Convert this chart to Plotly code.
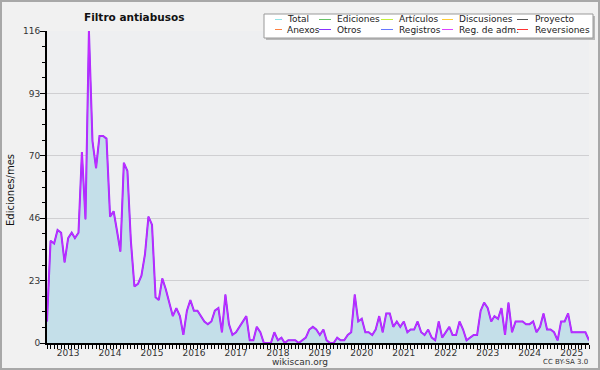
import plotly.graph_objects as go
import pandas as pd

title = "Filtro antiabusos"
start_month = "2012-07-01"
edits = [8, 38, 37, 42, 41, 30, 39, 41, 39, 41,
         71, 46, 116, 75, 65, 77, 77, 76, 47, 49,
         42, 34, 67, 64, 38, 21, 22, 25, 33, 47,
         44, 17, 16, 24, 20, 15, 10, 13, 10, 3,
         12, 16, 12, 12, 10, 8, 7, 8, 12, 13,
         4, 18, 7, 3, 4, 6, 8, 10, 1, 1,
         6, 4, 0, 0, 0, 4, 1, 2, 0, 1,
         1, 1, 0, 1, 2, 5, 6, 5, 3, 5,
         1, 0, 0, 2, 1, 1, 3, 4, 18, 8,
         9, 4, 4, 3, 5, 10, 4, 11, 11, 6,
         8, 6, 8, 4, 5, 5, 8, 4, 3, 5,
         2, 1, 8, 2, 4, 6, 3, 3, 8, 5,
         1, 2, 3, 3, 12, 15, 13, 8, 10, 9,
         13, 3, 15, 4, 8, 8, 8, 7, 7, 8,
         4, 6, 11, 5, 5, 4, 1, 8, 8, 11,
         4, 4, 4, 4, 4, 1]
years = list(range(2013, 2026))
y_tick_vals = [0, 23.2, 46.4, 69.6, 92.8, 116]
y_tick_text = ["0", "23", "46", "70", "93", "116"]
legend_names = ["Total", "Ediciones", "Artículos", "Discusiones", "Proyecto",
                "Anexos", "Otros", "Registros", "Reg. de adm.", "Reversiones"]
legend_colors = ["#8fe3e6", "#66c266", "#c4ee3a", "#ffcc33", "#555555",
                 "#ff8040", "#8833ff", "#6677ff", "#dd44ff", "#ff3333"]

months = pd.date_range(start_month, periods=len(edits), freq="MS")

W, H = 600, 370
L, R, T, B = 47, 589, 31, 343
FONT = "DejaVu Sans"

def xp(px):
    return (px - L) / (R - L)

def yp(py):
    return (B - py) / (B - T)

fig = go.Figure()
fig.add_trace(go.Scatter(x=months, y=edits, mode="lines", fill="tozeroy",
                         fillcolor="#c4dfe9", line=dict(color="#8fb8f0", width=1),
                         name="Total", showlegend=False))
fig.add_trace(go.Scatter(x=months, y=edits, mode="lines",
                         line=dict(color="#9a2cff", width=2), name="Otros", showlegend=False))
fig.add_trace(go.Scatter(x=months, y=edits, mode="lines",
                         line=dict(color="#c82cff", width=1), name="Reg. de adm.", showlegend=False))

shapes = []
annotations = []
# figure border
shapes.append(dict(type="rect", xref="paper", yref="paper",
                   x0=xp(1), x1=xp(599), y0=yp(369), y1=yp(1),
                   line=dict(color="#a8a8a8", width=2), fillcolor="rgba(0,0,0,0)", layer="below"))
# legend shadow + box
shapes.append(dict(type="rect", xref="paper", yref="paper",
                   x0=xp(266), x1=xp(595), y0=yp(40), y1=yp(16),
                   line=dict(width=0), fillcolor="#b8b8b8", layer="above"))
shapes.append(dict(type="rect", xref="paper", yref="paper",
                   x0=xp(264), x1=xp(593), y0=yp(38), y1=yp(14),
                   line=dict(color="#999999", width=1), fillcolor="#ffffff", layer="above"))
col_text_x = [285, 335, 397, 457, 533]
col_line_x = [(275, 282), (319, 331), (381, 393), (442, 453), (517, 528)]
row_y = [19.5, 29.5]
for k, (name, col) in enumerate(zip(legend_names, legend_colors)):
    r, c = divmod(k, 5)
    x0, x1 = col_line_x[c]
    shapes.append(dict(type="line", xref="paper", yref="paper",
                       x0=xp(x0), x1=xp(x1), y0=yp(row_y[r]), y1=yp(row_y[r]),
                       line=dict(color=col, width=1), layer="above"))
    annotations.append(dict(xref="paper", yref="paper", x=xp(col_text_x[c]), y=yp(row_y[r]),
                            text=name, showarrow=False, xanchor="left", yanchor="middle",
                            font=dict(family=FONT, size=9, color="#222222")))

annotations.append(dict(xref="paper", yref="paper", x=xp(134), y=yp(17), text="<b>" + title + "</b>",
                        showarrow=False, xanchor="center", yanchor="middle",
                        font=dict(family=FONT, size=10.5, color="#111111")))
annotations.append(dict(xref="paper", yref="paper", x=xp(10), y=yp(190), text="Ediciones/mes",
                        textangle=-90, showarrow=False, xanchor="center", yanchor="middle",
                        font=dict(family=FONT, size=10, color="#111111")))
annotations.append(dict(xref="paper", yref="paper", x=xp(300), y=yp(362), text="wikiscan.org",
                        showarrow=False, xanchor="center", yanchor="middle",
                        font=dict(family=FONT, size=9, color="#333333")))
annotations.append(dict(xref="paper", yref="paper", x=xp(590), y=yp(362), text="CC BY-SA 3.0",
                        showarrow=False, xanchor="right", yanchor="middle",
                        font=dict(family=FONT, size=7, color="#333333")))

fig.update_layout(
    width=W, height=H,
    margin=dict(l=L, r=W - R, t=T, b=H - B, pad=0, autoexpand=False),
    paper_bgcolor="#f1f1f1", plot_bgcolor="#eeeff1",
    showlegend=False,
    shapes=shapes, annotations=annotations,
    font=dict(family=FONT, size=9, color="#333333"),
    xaxis=dict(type="date", range=[months[0], months[-1]], automargin=False,
               tickvals=[f"{y}-01-01" for y in years], ticktext=[str(y) for y in years],
               ticks="outside", ticklen=4, tickcolor="#000", tickwidth=1,
               ticklabelstandoff=-4,
               showgrid=False, zeroline=False, showline=True, linecolor="#000", linewidth=2,
               minor=dict(dtick="M1", tick0="2012-07-01", ticks="outside", ticklen=4,
                          tickcolor="#000", tickwidth=1, showgrid=False),
               tickfont=dict(family=FONT, size=9, color="#333333")),
    yaxis=dict(range=[0, 116], tickvals=y_tick_vals, ticktext=y_tick_text, automargin=False,
               ticks="outside", ticklen=5, tickcolor="#000", tickwidth=1,
               ticklabelstandoff=-2,
               showgrid=True, gridcolor="#cfcfd2", gridwidth=1, zeroline=False,
               showline=True, linecolor="#000", linewidth=2,
               minor=dict(dtick=5.8, tick0=0, ticks="outside", ticklen=3, tickcolor="#000",
                          showgrid=False),
               tickfont=dict(family=FONT, size=9, color="#333333")),
)

fig.write_html("out.html", config={"displayModeBar": False},
               post_script="document.body.style.margin='0';document.body.style.overflow='hidden';")
